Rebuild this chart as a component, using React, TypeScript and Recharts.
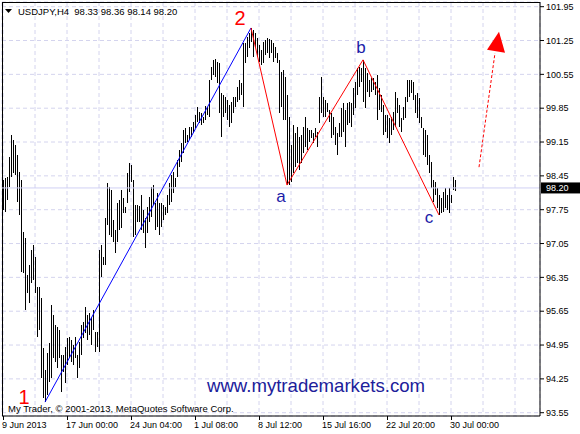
import { ComposedChart, Bar, XAxis, YAxis, CartesianGrid, ReferenceLine, ReferenceDot } from "recharts"

// USDJPY H4 bars, high/low (oldest first)
const barLow = [
  97.74, 97.70, 97.95, 98.22, 98.43, 98.51, 98.47, 97.91, 97.64, 96.46,
  96.44, 95.67, 96.03, 95.82, 96.23, 96.30, 96.03, 95.12, 95.26, 94.27,
  93.85, 93.77, 93.92, 94.18, 94.27, 94.68, 94.60, 94.47, 94.68, 93.98,
  94.39, 94.16, 94.54, 94.68, 94.60, 94.54, 94.68, 94.27, 94.47, 94.74,
  95.09, 95.20, 95.05, 95.16, 94.95, 95.26, 94.80, 94.91, 94.80, 96.36,
  96.61, 96.61, 97.43, 97.23, 97.18, 97.08, 96.85, 97.08, 97.33, 97.37,
  97.68, 97.68, 97.89, 98.12, 98.32, 97.18, 97.23, 97.50, 97.50, 97.33,
  97.27, 96.96, 97.27, 97.50, 97.60, 97.85, 97.33, 97.39, 97.23, 97.39,
  97.54, 97.64, 97.68, 97.85, 97.91, 98.10, 98.22, 98.43, 98.63, 98.74,
  98.92, 99.13, 99.15, 99.19, 99.25, 99.34, 99.44, 99.56, 99.54, 99.50,
  99.54, 99.61, 99.71, 99.67, 100.43, 100.54, 100.50, 100.37, 99.75, 99.25,
  99.67, 99.75, 99.61, 99.46, 99.54, 99.75, 99.88, 99.98, 100.02, 100.12,
  99.88, 100.79, 100.91, 101.10, 101.22, 100.91, 101.10, 100.91, 100.81, 100.74,
  100.79, 100.95, 100.99, 100.89, 100.99, 100.81, 100.89, 100.79, 99.75, 99.88,
  99.61, 99.61, 98.26, 98.26, 98.32, 98.51, 98.63, 98.72, 98.57, 98.72,
  98.92, 99.05, 98.99, 99.15, 99.23, 99.13, 99.25, 99.05, 99.54, 99.75,
  99.67, 99.67, 99.77, 99.56, 99.23, 99.30, 99.09, 98.88, 99.25, 99.25,
  99.36, 99.05, 99.50, 99.54, 99.46, 99.71, 99.85, 100.12, 100.29, 100.39,
  99.98, 99.85, 100.19, 100.08, 100.19, 100.23, 100.12, 99.61, 99.81, 99.77,
  99.30, 99.36, 99.23, 99.13, 99.30, 99.40, 99.46, 99.75, 99.46, 99.36,
  99.61, 99.65, 99.98, 100.08, 100.16, 100.02, 99.75, 99.65, 99.54, 99.44,
  98.88, 98.84, 98.67, 98.51, 98.20, 97.91, 98.05, 97.78, 97.64, 97.68,
  97.70, 97.78, 97.74, 97.68, 97.89, 98.16, 98.14,
]
const barHigh = [
  98.36, 98.40, 98.43, 98.84, 99.30, 99.19, 99.09, 98.88, 98.53, 98.36,
  97.29, 97.16, 96.40, 96.61, 96.92, 97.02, 96.77, 96.15, 96.15, 95.92,
  94.89, 94.43, 94.78, 94.99, 95.78, 95.57, 95.36, 95.32, 95.26, 94.74,
  94.74, 94.91, 95.09, 95.12, 95.05, 94.95, 95.12, 94.74, 95.01, 95.36,
  95.43, 95.74, 95.57, 95.61, 95.53, 95.67, 95.22, 95.22, 96.92, 97.02,
  96.77, 97.58, 98.30, 98.22, 98.16, 97.54, 97.33, 97.89, 97.95, 98.16,
  97.99, 97.81, 98.51, 98.72, 98.68, 98.36, 97.85, 97.85, 97.83, 98.05,
  97.74, 97.58, 97.81, 98.01, 98.22, 98.26, 97.89, 98.10, 97.89, 97.89,
  97.85, 97.81, 98.05, 98.30, 98.47, 98.53, 98.41, 98.78, 98.99, 99.13,
  99.40, 99.44, 99.30, 99.46, 99.46, 99.56, 99.71, 99.88, 99.77, 99.75,
  99.67, 99.90, 99.88, 100.43, 100.70, 100.85, 100.87, 100.81, 100.79, 100.16,
  100.12, 100.08, 100.02, 99.92, 99.98, 100.08, 100.08, 100.29, 100.43, 100.37,
  101.20, 101.20, 101.32, 101.41, 101.51, 101.47, 101.41, 101.30, 101.16, 101.05,
  101.22, 101.26, 101.30, 101.28, 101.26, 101.20, 101.12, 100.99, 100.85, 100.60,
  100.64, 100.50, 100.12, 99.67, 99.09, 99.50, 99.34, 99.46, 99.25, 99.30,
  99.46, 99.67, 99.44, 99.40, 99.40, 99.34, 99.44, 99.36, 100.08, 100.50,
  100.08, 100.02, 99.96, 99.81, 99.75, 99.67, 99.46, 99.34, 99.54, 99.85,
  99.96, 99.81, 99.96, 99.98, 99.96, 100.27, 100.39, 100.68, 100.70, 100.68,
  100.85, 100.68, 100.58, 100.43, 100.47, 100.47, 100.39, 100.54, 100.27, 100.12,
  99.92, 99.71, 99.71, 99.65, 99.67, 99.77, 100.19, 100.06, 99.92, 99.65,
  99.88, 100.08, 100.43, 100.43, 100.43, 100.39, 100.12, 100.16, 100.06, 99.67,
  99.44, 99.40, 99.30, 98.88, 98.74, 98.36, 98.32, 98.20, 98.05, 97.99,
  98.12, 98.20, 98.05, 98.20, 98.05, 98.43, 98.36,
]

// bar slots incl. the empty shift area on the right
const slotCount = 269

const priceTicks = [93.55, 94.25, 94.95, 95.65, 96.35, 97.05, 97.75, 98.45, 99.15, 99.85, 100.55, 101.25, 101.95]
const gridSlots = [0, 16, 32, 48, 64, 80, 96, 112, 128, 144, 160, 176, 192, 208, 224, 240, 256]
const timeLabels: Record<number, string> = {
  0: "9 Jun 2013",
  32: "17 Jun 00:00",
  64: "24 Jun 04:00",
  96: "1 Jul 08:00",
  128: "8 Jul 12:00",
  160: "15 Jul 16:00",
  192: "22 Jul 20:00",
  224: "30 Jul 00:00",
}

const symbol = "USDJPY,H4"
const lastOpen = 98.33
const lastHigh = 98.36
const lastLow = 98.14
const lastClose = 98.2

// wave count points (bar slot, price)
const impulse = [
  { name: "1", i: 21, price: 93.77 },
  { name: "2", i: 124, price: 101.51 },
]
const correction = [
  { name: "2", i: 124, price: 101.51 },
  { name: "a", i: 142, price: 98.26 },
  { name: "b", i: 180, price: 100.85 },
  { name: "c", i: 218, price: 97.64 },
]
const forecast = [
  { i: 238, price: 98.63 },
  { i: 246, price: 100.99 },
]
const forecastTip = { i: 248, price: 101.43 }

const domainMin = 93.482
const domainMax = 102.047

const rows = Array.from({ length: slotCount }, (_, i) => ({
  i,
  range: i < barLow.length ? [barLow[i], barHigh[i]] : null,
}))

const FONT = '"Liberation Sans", Arial, sans-serif'

const labelStyle: Record<string, { dx: number; dy: number; size: number; color: string }> = {
  "1": { dx: -21, dy: 2, size: 20, color: "#ff0000" },
  "2": { dx: -11, dy: -3, size: 20, color: "#ff0000" },
  a: { dx: -6, dy: 17, size: 17, color: "#1c1ca8" },
  b: { dx: -2, dy: -7, size: 17, color: "#1c1ca8" },
  c: { dx: -10, dy: 8, size: 17, color: "#1c1ca8" },
}

const HLBar = (p: any) => {
  if (p.height == null || isNaN(p.y)) return null
  return (
    <rect
      x={Math.round(p.x)}
      y={Math.round(p.y)}
      width={1}
      height={Math.max(1, Math.round(p.height))}
      fill="#000"
    />
  )
}

const TimeTick = (p: any) => {
  const label = timeLabels[p.payload.value]
  if (!label) return null
  return (
    <g>
      <line x1={p.x} y1={p.y} x2={p.x} y2={p.y + 4} stroke="#000" shapeRendering="crispEdges" />
      <text x={p.x - 1} y={p.y + 12} fontSize={9} fill="#000" fontFamily={FONT}>
        {label}
      </text>
    </g>
  )
}

export default function App() {
  const waveLabels = [impulse[0], ...correction]
  return (
    <div style={{ position: "absolute", left: 0, top: 0, width: 580, height: 434, background: "#fff", fontFamily: FONT }}>
      <ComposedChart width={580} height={434} data={rows} margin={{ top: 2, right: 0, bottom: 0, left: 2 }}>
        <CartesianGrid stroke="#d4d4ee" strokeDasharray="4 3" />
        <XAxis
          dataKey="i"
          type="category"
          ticks={gridSlots}
          interval={0}
          height={18}
          tickSize={0}
          tickMargin={0}
          tickLine={false}
          tick={<TimeTick />}
          axisLine={{ stroke: "#000" }}
        />
        <YAxis
          orientation="right"
          width={40}
          domain={[domainMin, domainMax]}
          allowDataOverflow
          ticks={priceTicks}
          interval={0}
          tickSize={4}
          tickMargin={2}
          tickFormatter={(v: number) => v.toFixed(2)}
          tick={{ fontSize: 9, fill: "#000", fontFamily: FONT }}
          axisLine={{ stroke: "#000" }}
          tickLine={{ stroke: "#000" }}
        />
        <ReferenceLine x={0} position="start" stroke="#000" shapeRendering="crispEdges" />
        <ReferenceLine y={domainMax} stroke="#000" shapeRendering="crispEdges" />
        <ReferenceLine y={lastClose} stroke="#d0d0f4" />
        <Bar dataKey="range" barSize={1} fill="#000" shape={HLBar} isAnimationActive={false} />
        <ReferenceLine
          segment={[
            { x: impulse[0].i, y: impulse[0].price },
            { x: impulse[1].i, y: impulse[1].price },
          ]}
          stroke="#0000ff"
        />
        {correction.slice(1).map((p, k) => (
          <ReferenceLine
            key={p.name}
            segment={[
              { x: correction[k].i, y: correction[k].price },
              { x: p.i, y: p.price },
            ]}
            stroke="#ff0000"
          />
        ))}
        <ReferenceLine
          segment={[
            { x: forecast[0].i, y: forecast[0].price },
            { x: forecast[1].i, y: forecast[1].price },
          ]}
          stroke="#ff0000"
          strokeDasharray="3 2"
        />
        <ReferenceDot
          x={forecastTip.i}
          y={forecastTip.price}
          r={0}
          shape={(p: any) => (
            <polygon
              points={`${p.cx},${p.cy} ${p.cx - 12},${p.cy + 18} ${p.cx + 6},${p.cy + 21}`}
              fill="#ff0000"
            />
          )}
        />
        {waveLabels.map((w) => {
          const s = labelStyle[w.name]
          return (
            <ReferenceDot
              key={"lbl" + w.name}
              x={w.i}
              y={w.price}
              r={0}
              shape={(p: any) => (
                <text
                  x={p.cx + s.dx}
                  y={p.cy + s.dy}
                  textAnchor="middle"
                  fontSize={s.size}
                  fill={s.color}
                  fontFamily="Arial, 'Liberation Sans', sans-serif"
                >
                  {w.name}
                </text>
              )}
            />
          )
        })}
        <ReferenceDot
          x={slotCount - 1}
          y={lastClose}
          r={0}
          shape={(p: any) => (
            <g>
              <rect x={p.cx + 2} y={p.cy - 5.5} width={40} height={11} fill="#000" />
              <text x={p.cx + 7} y={p.cy + 3.5} fontSize={9} fill="#fff" fontFamily={FONT}>
                {lastClose.toFixed(2)}
              </text>
            </g>
          )}
        />
        <polygon points="5,9 12,9 8.5,13" fill="#000" />
        <text x={18} y={15} fontSize={9.5} fill="#000" fontFamily={FONT} style={{ whiteSpace: "pre" }}>
          {`${symbol}  ${lastOpen.toFixed(2)} ${lastHigh.toFixed(2)} ${lastLow.toFixed(2)} ${lastClose.toFixed(2)}`}
        </text>
        <text x={8} y={412} fontSize={9.5} fill="#000" fontFamily={FONT}>
          My Trader, © 2001-2013, MetaQuotes Software Corp.
        </text>
        <text x={207} y={392} fontSize={18.6} fill="#20209a" fontFamily="Arial, 'Liberation Sans', sans-serif">
          www.mytrademarkets.com
        </text>
      </ComposedChart>
    </div>
  )
}
